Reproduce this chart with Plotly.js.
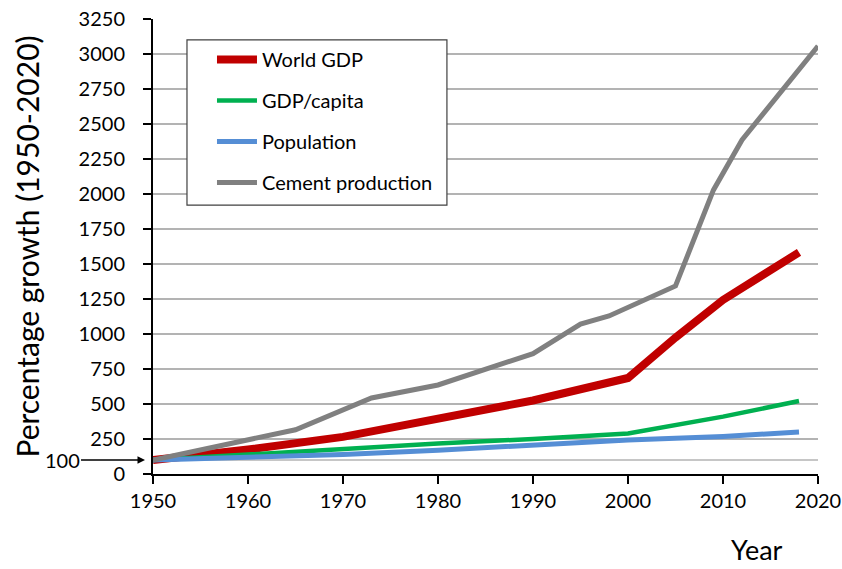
<!DOCTYPE html>
<html>
<head>
<meta charset="utf-8">
<script src="https://cdn.plot.ly/plotly-3.0.1.min.js"></script>
<style>html,body{margin:0;padding:0;background:#fff}#chart{width:842px;height:569px}</style>
</head>
<body>
<div id="chart"></div>
<script>
// Data (percentage of 1950 level)
const gdpYears = [1950, 1960, 1970, 1980, 1990, 2000, 2005, 2010, 2018];
const gdpValues = [100, 175, 265, 390, 525, 686, 975, 1243, 1583];

const capitaYears = [1950, 1960, 1970, 1980, 1990, 2000, 2010, 2018];
const capitaValues = [100, 140, 180, 218, 250, 290, 410, 521];

const popYears = [1950, 1960, 1970, 1980, 1990, 2000, 2010, 2018];
const popValues = [100, 118, 140, 170, 207, 243, 268, 300];

const cementYears = [1950, 1965, 1973, 1980, 1990, 1995, 1998, 2005, 2009, 2012, 2020];
const cementValues = [100, 316, 543, 636, 860, 1071, 1129, 1343, 2029, 2386, 3057];

const seriesNames = ["World GDP", "GDP/capita", "Population", "Cement production"];
const yTicks = [0, 250, 500, 750, 1000, 1250, 1500, 1750, 2000, 2250, 2500, 2750, 3000, 3250];
const xTicks = [1950, 1960, 1970, 1980, 1990, 2000, 2010, 2020];
const baseLevel = 100;

const FONT = "Lato, 'Open Sans', sans-serif";

const traces = [
  {x: gdpYears, y: gdpValues, name: seriesNames[0], legendgroup: "a",
   mode: "lines", line: {color: "#c00000", width: 8}},
  {x: capitaYears, y: capitaValues, name: seriesNames[1], legendgroup: "b",
   mode: "lines", line: {color: "#00b050", width: 4.5}},
  {x: popYears, y: popValues, name: seriesNames[2], legendgroup: "c",
   mode: "lines", line: {color: "#558ed5", width: 5}},
  {x: cementYears, y: cementValues, name: seriesNames[3], legendgroup: "d",
   mode: "lines", line: {color: "#808080", width: 5}}
];

const layout = {
  width: 842, height: 569,
  margin: {l: 153, r: 24, t: 19, b: 95},
  paper_bgcolor: "#ffffff", plot_bgcolor: "#ffffff",
  font: {family: FONT, size: 20, color: "#000"},
  showlegend: true,
  legend: {
    x: 0.0887, y: 0.954, xanchor: "left", yanchor: "top",
    borderwidth: 0, bgcolor: "rgba(0,0,0,0)",
    font: {family: FONT, size: 20, color: "#000"},
    tracegroupgap: 12, itemwidth: 40
  },
  xaxis: {
    range: [1950, 2020], tickvals: xTicks, ticktext: xTicks.map(String),
    showgrid: false, zeroline: false,
    showline: true, linecolor: "#000", linewidth: 2,
    ticks: "outside", ticklen: 8, tickwidth: 2, tickcolor: "#000",
    ticklabelstandoff: 0,
    tickfont: {family: FONT, size: 20}
  },
  yaxis: {
    range: [0, 3250], tickvals: yTicks, ticktext: yTicks.map(String),
    showgrid: true, gridcolor: "#b3b3b3", gridwidth: 1.3,
    zeroline: false,
    showline: true, linecolor: "#000", linewidth: 2,
    ticks: "outside", ticklen: 8, tickwidth: 2, tickcolor: "#000",
    ticklabelstandoff: 14,
    tickfont: {family: FONT, size: 20},
    title: {text: "Percentage growth (1950-2020)", font: {family: FONT, size: 30}, standoff: 30}
  },
  shapes: [
    {type: "line", xref: "paper", x0: 0, x1: 1, yref: "y", y0: baseLevel, y1: baseLevel,
     line: {color: "#b3b3b3", width: 1.3}, layer: "below"},
    {type: "rect", xref: "paper", yref: "paper", x0: 0.0511, x1: 0.442, y0: 0.591, y1: 0.954,
     line: {color: "#404040", width: 1.2}, fillcolor: "#ffffff", layer: "above"}
  ],
  annotations: [
    {xref: "paper", yref: "y", x: -0.012, y: baseLevel, text: String(baseLevel),
     showarrow: true, arrowhead: 2, arrowsize: 1, arrowwidth: 1.5, arrowcolor: "#000",
     ax: -83, ay: 0, font: {family: FONT, size: 20, color: "#000"}},
    {xref: "paper", yref: "paper", x: 0.908, y: -0.207, xanchor: "center", yanchor: "bottom",
     text: "Year", showarrow: false, font: {family: FONT, size: 27, color: "#000"}}
  ]
};

Plotly.newPlot("chart", traces, layout, {displayModeBar: false, staticPlot: true});
</script>
</body>
</html>
